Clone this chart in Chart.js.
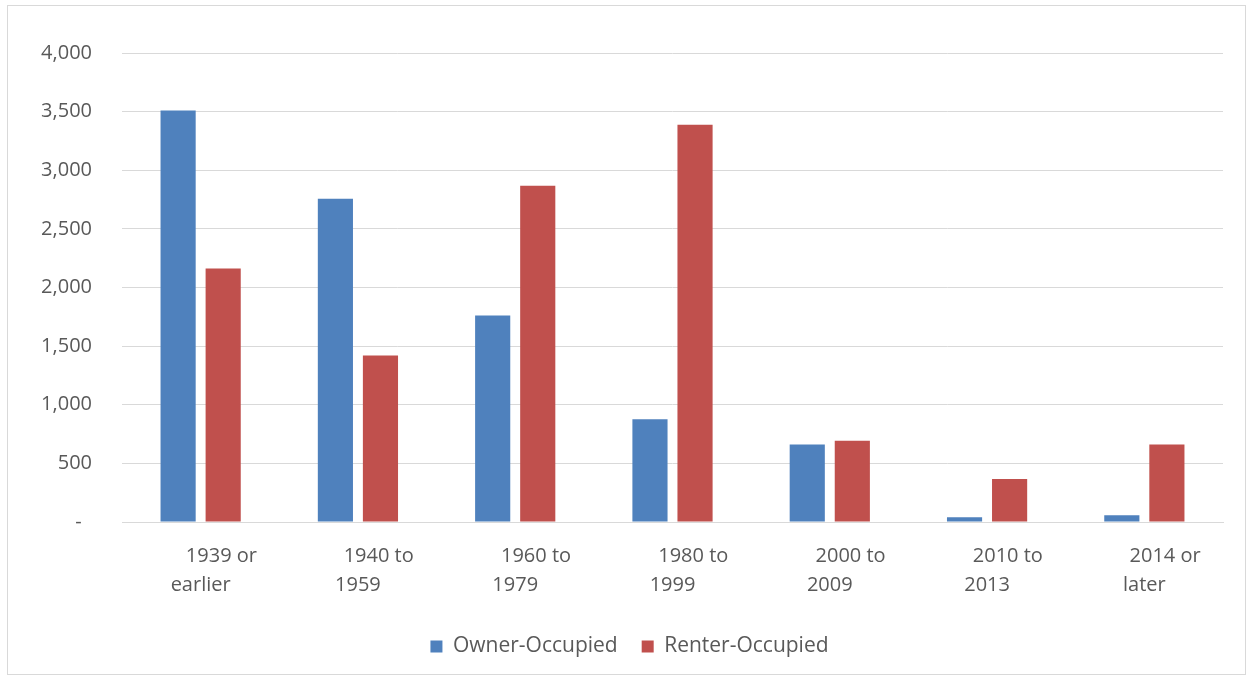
<!DOCTYPE html>
<html>
<head>
<meta charset="utf-8">
<script src="https://cdn.jsdelivr.net/npm/chart.js@4/dist/chart.umd.min.js"></script>
<style>
  html, body { margin: 0; padding: 0; background: #fff; }
  #frame {
    position: absolute; left: 7px; top: 5px;
    width: 1237px; height: 668px;
    border: 1px solid #d9d9d9;
  }
  #frame canvas { display: block; }
</style>
</head>
<body>
<div id="frame"><canvas id="chart" width="1237" height="668"></canvas></div>
<script>
// Categories (leading spaces reproduce the offset first line of each label)
const categories = [
    ['        1939 or', 'earlier'],
    ['        1940 to', '1959'],
    ['        1960 to', '1979'],
    ['        1980 to', '1999'],
    ['        2000 to', '2009'],
    ['        2010 to', '2013'],
    ['        2014 or', 'later']
];

// Series values
const ownerOccupied = [3510, 2757, 1762, 877, 660, 40, 57];
const renterOccupied = [2162, 1421, 2868, 3387, 694, 366, 660];

const seriesNames = ['Owner-Occupied', 'Renter-Occupied'];
const textColor = '#595959';
const gridColor = '#d9d9d9';

const ctx = document.getElementById('chart').getContext('2d');
new Chart(ctx, {
    type: 'bar',
    data: {
        labels: categories,
        datasets: [
            {
                label: seriesNames[0],
                data: ownerOccupied,
                backgroundColor: '#4f81bd',
                categoryPercentage: 0.573,
                barPercentage: 0.78
            },
            {
                label: seriesNames[1],
                data: renterOccupied,
                backgroundColor: '#c0504d',
                categoryPercentage: 0.573,
                barPercentage: 0.78
            }
        ]
    },
    options: {
        responsive: false,
        animation: false,
        layout: {
            padding: { left: 28, right: 22, top: 47, bottom: 7 }
        },
        plugins: {
            tooltip: { enabled: false },
            legend: {
                position: 'bottom',
                labels: {
                    color: textColor,
                    font: { family: '"Open Sans"', size: 21 },
                    boxWidth: 12,
                    boxHeight: 12,
                    padding: 24
                }
            }
        },
        scales: {
            x: {
                grid: { display: false },
                border: { color: gridColor, width: 1 },
                ticks: {
                    color: textColor,
                    font: { family: '"Open Sans"', size: 20, lineHeight: 1.45 },
                    padding: 12,
                    maxRotation: 0,
                    autoSkip: false
                },
                // keep the wide first/last labels from pushing the plot area in
                afterFit: function (scale) {
                    scale.paddingLeft = 0;
                    scale.paddingRight = 0;
                }
            },
            y: {
                min: 0,
                max: 4000,
                grid: { color: gridColor, drawTicks: false },
                border: { display: false },
                ticks: {
                    stepSize: 500,
                    color: textColor,
                    font: { family: '"Open Sans"', size: 20 },
                    padding: 30,
                    callback: function (value) {
                        return value === 0 ? '-  ' : value.toLocaleString('en-US');
                    }
                },
                // fixed axis width so the plot starts where the original does
                afterFit: function (scale) {
                    scale.width = 86;
                }
            }
        }
    }
});
</script>
</body>
</html>
